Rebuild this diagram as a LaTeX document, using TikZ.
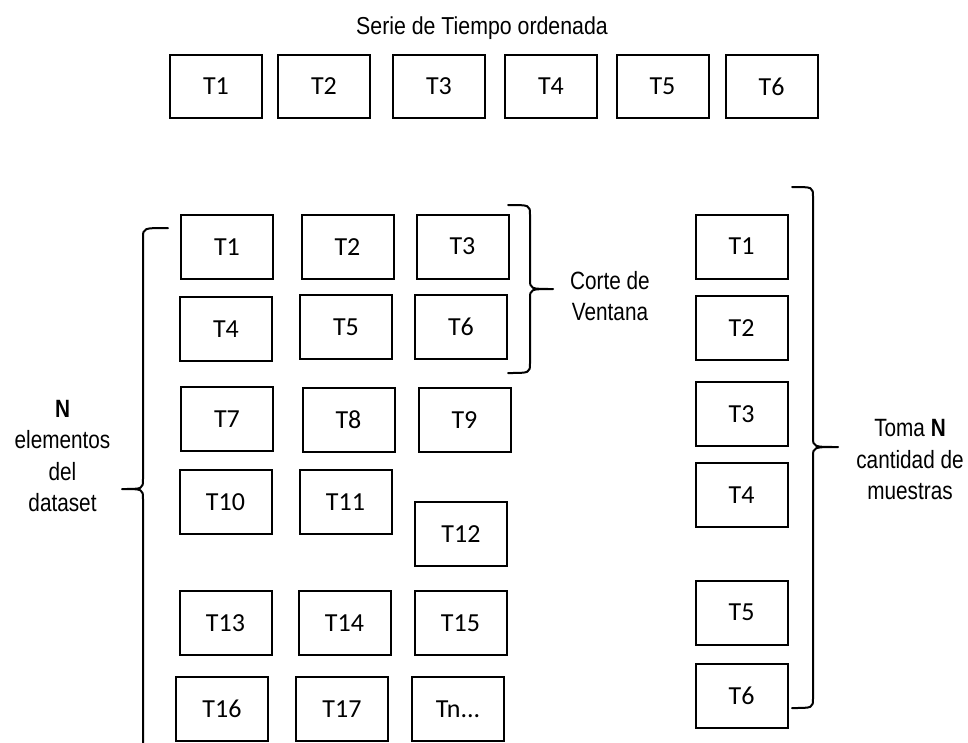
\documentclass[tikz,border=0pt]{standalone}
\usepackage{fontspec}
\setmainfont{Carlito}
\newfontfamily\narrowA[FakeStretch=0.83]{Liberation Sans}
\newfontfamily\narrowT[FakeStretch=0.87]{Liberation Sans}
\begin{document}
\begin{tikzpicture}[x=1pt,y=-1pt,
  boxL/.style={draw,line width=2pt,minimum width=92pt,minimum height=64pt,inner sep=0pt,font=\fontsize{26}{30}\selectfont},
  boxT/.style={draw,line width=2pt,minimum width=92pt,minimum height=63pt,inner sep=0pt,font=\fontsize{26}{30}\selectfont},
  lbl/.style={align=center,font=\narrowA\fontsize{25}{31.5}\selectfont},
  brace/.style={line width=2pt,line cap=round,line join=round}]
\useasboundingbox (0,0) rectangle (968,742);
% title and top row
\node[font=\narrowT\fontsize{24.5}{28}\selectfont] (title) at (482,28) {Serie de Tiempo ordenada};
\node[boxT] (a1) at (216,86.5) {T1};
\node[boxT] (a2) at (324,86.5) {T2};
\node[boxT] (a3) at (439,86.5) {T3};
\node[boxT] (a4) at (551,86.5) {T4};
\node[boxT] (a5) at (662.5,86.5) {T5};
\node[boxT] (a6) at (771.5,86.5) {T6};
% left grid
\node[boxL] (b1) at (227,247) {T1};
\node[boxL] (b2) at (347.5,247) {T2};
\node[boxL] (b3) at (462.5,246.5) {T3};
\node[boxL] (b4) at (226,329) {T4};
\node[boxL] (b5) at (346,327) {T5};
\node[boxL] (b6) at (461,327) {T6};
\node[boxL] (b7) at (227,419) {T7};
\node[boxL] (b8) at (348.5,420) {T8};
\node[boxL] (b9) at (464.5,420) {T9};
\node[boxL] (b10) at (225.5,502) {T10};
\node[boxL] (b11) at (345.5,502) {T11};
\node[boxL] (b12) at (461,534) {T12};
\node[boxL] (b13) at (225.5,623) {T13};
\node[boxL] (b14) at (344.5,623) {T14};
\node[boxL] (b15) at (460.5,623) {T15};
\node[boxL] (b16) at (222,709) {T16};
\node[boxL] (b17) at (342,709) {T17};
\node[boxL] (bn) at (458,709) {Tn...};
% right column
\node[boxL] (c1) at (741.5,246.5) {T1};
\node[boxL] (c2) at (741.5,328) {T2};
\node[boxL] (c3) at (741.5,414) {T3};
\node[boxL] (c4) at (741.5,495) {T4};
\node[boxL] (c5) at (741.5,612.5) {T5};
\node[boxL] (c6) at (741.5,696) {T6};
% labels
\node[lbl] (corte) at (610,296) {Corte de\\Ventana};
\node[lbl] (nelem) at (62.5,456) {\textbf{N}\\elementos\\del\\dataset};
\node[lbl] (toma) at (910,460) {Toma \textbf{N}\\cantidad de\\muestras};
% braces
\draw[brace] (508,205) .. controls (530,205) and (530,205) .. (530,215) -- (530,279)
  .. controls (530,289) and (530,289) .. (553,289)
  .. controls (530,289) and (530,289) .. (530,299) -- (530,363)
  .. controls (530,373) and (530,373) .. (508,373);
\draw[brace] (168,228) .. controls (143,228) and (143,228) .. (143,238) -- (143,479)
  .. controls (143,489) and (143,489) .. (122,489)
  .. controls (143,489) and (143,489) .. (143,499) -- (143,745);
\draw[brace] (792,187) .. controls (813,187) and (813,187) .. (813,197) -- (813,437)
  .. controls (813,447) and (813,447) .. (838,447)
  .. controls (813,447) and (813,447) .. (813,457) -- (813,698)
  .. controls (813,708) and (813,708) .. (792,708);
\end{tikzpicture}
\end{document}
